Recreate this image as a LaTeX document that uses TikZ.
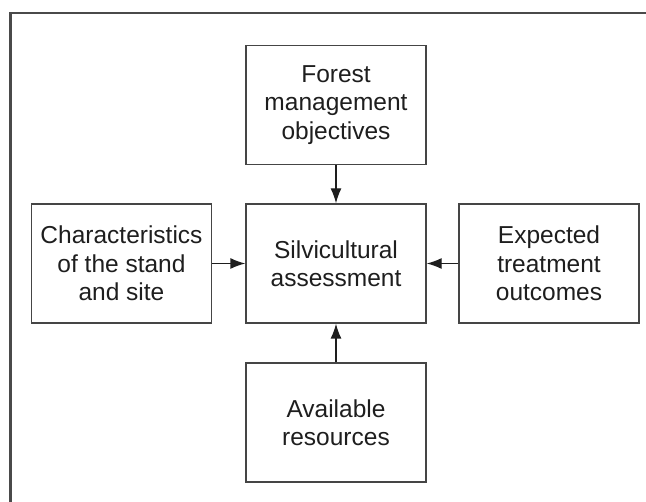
\documentclass[tikz,border=0pt]{standalone}
\usepackage{fontspec}
\setmainfont{Liberation Sans}
\usetikzlibrary{arrows.meta}
\definecolor{boxline}{HTML}{454545}
\definecolor{txt}{HTML}{1E1E1E}
\definecolor{framec}{HTML}{4A4A4A}
\tikzset{
  blockbox/.style={draw=boxline, line width=1.3pt, minimum width=180pt, minimum height=119pt,
    align=center, text=txt, font=\fontsize{24.5}{28.5}\selectfont, inner sep=0pt},
  conn/.style={draw=txt, line width=1.3pt, -{Latex[length=15pt,width=11pt]}}
}
\begin{document}
\begin{tikzpicture}[x=1pt,y=-1pt]
\useasboundingbox (0,0) rectangle (646,502);
\coordinate (ftl) at (10.5,13);
\coordinate (ftr) at (646,13);
\coordinate (fbl) at (10.5,502);
\draw[framec, line width=2.2pt] (ftr) -- (ftl) -- (fbl);
\node[blockbox] (top) at (336,105) {Forest\\management\\objectives};
\node[blockbox] (mid) at (336,263.5) {Silvicultural\\assessment};
\node[blockbox] (left) at (121.5,263.5) {Characteristics\\of the stand\\and site};
\node[blockbox] (right) at (549,263.5) {Expected\\treatment\\outcomes};
\node[blockbox] (bot) at (336,422.5) {Available\\resources};
\draw[conn] (top) -- (mid);
\draw[conn] (left) -- (mid);
\draw[conn] (right) -- (mid);
\draw[conn] (bot) -- (mid);
\end{tikzpicture}
\end{document}
